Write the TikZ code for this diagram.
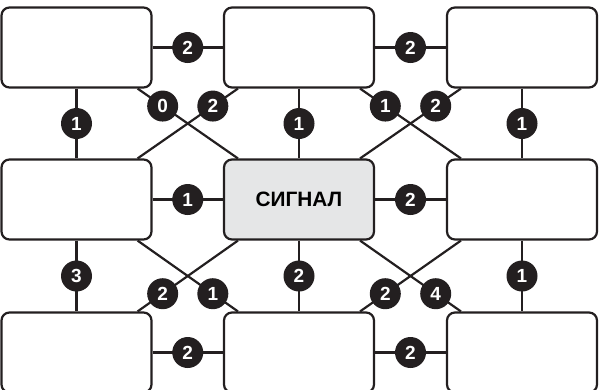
\documentclass[tikz,border=0pt]{standalone}
\usepackage{fontspec}
\setmainfont{Liberation Sans}
\definecolor{ink}{RGB}{35,31,32}
\definecolor{sig}{RGB}{229,230,231}
\begin{document}
\begin{tikzpicture}[x=1pt,y=-1pt,
  box/.style={draw=ink,line width=2.2pt,rounded corners=8pt,minimum width=150pt,minimum height=80pt,fill=white,inner sep=0pt},
  num/.style={circle,fill=ink,inner sep=0pt,minimum size=31pt,text=white,font=\fontsize{19}{20}\selectfont\bfseries},
  link/.style={draw=ink,line width=2.2pt}]
\useasboundingbox (0,0) rectangle (599,389);
\clip (0,0) rectangle (599,389);
\node[box] (TL) at (76.5,47.5) {};
\node[box] (TM) at (299,47.5) {};
\node[box] (TR) at (522,47.5) {};
\node[box] (ML) at (76.5,199.5) {};
\node[box,fill=sig,font=\fontsize{20.8}{24}\selectfont\bfseries] (C) at (299,199.5) {СИГНАЛ};
\node[box] (MR) at (522,199.5) {};
\node[box] (BL) at (76.5,352.5) {};
\node[box] (BM) at (299,352.5) {};
\node[box] (BR) at (522,352.5) {};
% horizontal
\draw[link] (TL) -- node[num]{2} (TM);
\draw[link] (TM) -- node[num]{2} (TR);
\draw[link] (ML) -- node[num]{1} (C);
\draw[link] (C) -- node[num]{2} (MR);
\draw[link] (BL) -- node[num]{2} (BM);
\draw[link] (BM) -- node[num]{2} (BR);
% vertical
\draw[link] (TL) -- node[num]{1} (ML);
\draw[link] (TM) -- node[num]{1} (C);
\draw[link] (TR) -- node[num]{1} (MR);
\draw[link] (ML) -- node[num]{3} (BL);
\draw[link] (C) -- node[num]{2} (BM);
\draw[link] (MR) -- node[num]{1} (BR);
% diagonals
\draw[link] ([xshift=-15pt]TL.south east) -- node[num,pos=0.25]{0} ([xshift=15pt]C.north west);
\draw[link] ([xshift=15pt]TM.south west) -- node[num,pos=0.25]{2} ([xshift=-15pt]ML.north east);
\draw[link] ([xshift=-15pt]TM.south east) -- node[num,pos=0.25]{1} ([xshift=15pt]MR.north west);
\draw[link] ([xshift=15pt]TR.south west) -- node[num,pos=0.25]{2} ([xshift=-15pt]C.north east);
\draw[link] ([xshift=-15pt]ML.south east) -- node[num,pos=0.75]{1} ([xshift=15pt]BM.north west);
\draw[link] ([xshift=15pt]C.south west) -- node[num,pos=0.75]{2} ([xshift=-15pt]BL.north east);
\draw[link] ([xshift=-15pt]C.south east) -- node[num,pos=0.75]{4} ([xshift=15pt]BR.north west);
\draw[link] ([xshift=15pt]MR.south west) -- node[num,pos=0.75]{2} ([xshift=-15pt]BM.north east);
\end{tikzpicture}
\end{document}
